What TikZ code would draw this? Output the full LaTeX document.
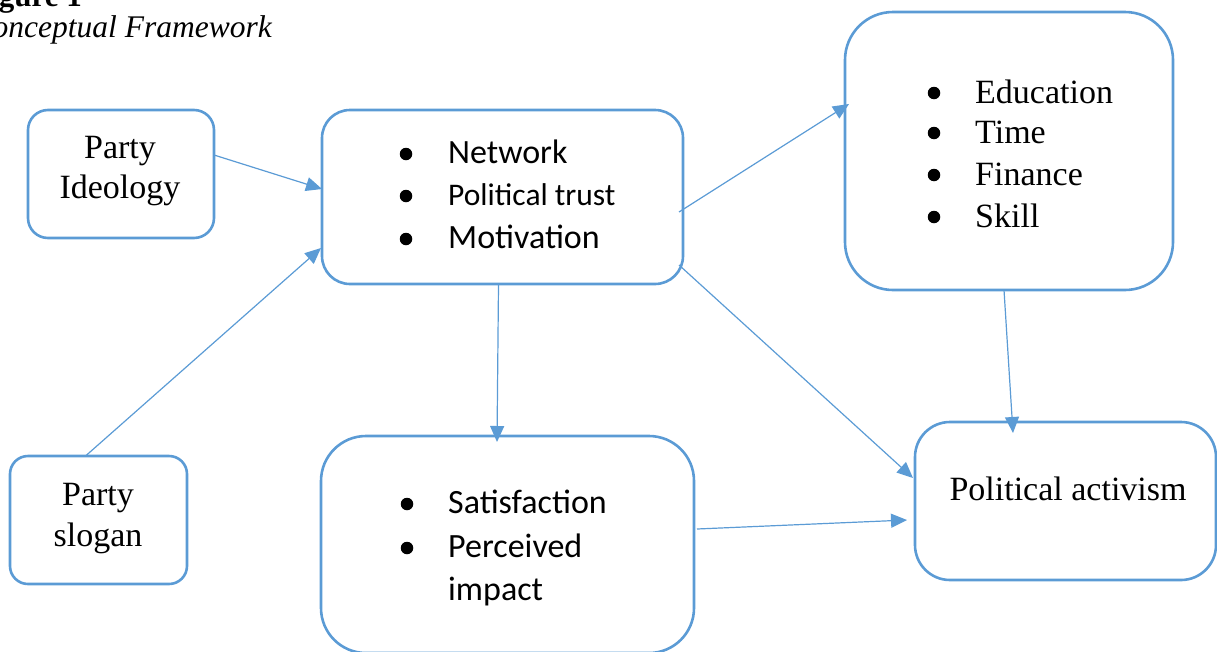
\documentclass[tikz,border=0pt]{standalone}
\usepackage{fontspec}
\setmainfont{Liberation Serif}
\newfontfamily\calibri{Carlito}
\usetikzlibrary{arrows.meta,calc}
\definecolor{frameblue}{RGB}{91,155,213}
\begin{document}
\begin{tikzpicture}[x=1pt,y=-1pt,
  box/.style={draw=frameblue, line width=2.6pt, rectangle, inner sep=0pt, outer sep=0pt},
  arr/.style={draw=frameblue, line width=1.2pt, -{Triangle[length=16pt,width=14pt]}},
  serif/.style={font=\fontsize{34}{39}\selectfont, inner sep=0pt},
  sans/.style={font=\fontsize{34}{39}\selectfont\calibri, inner sep=0pt},
  sanssmall/.style={font=\fontsize{31.5}{36}\selectfont\calibri, inner sep=0pt},
  bul/.style={circle, fill=black, inner sep=0pt, minimum size=12.5pt},
  txt/.style={anchor=base west}]
\useasboundingbox (0,0) rectangle (1217,651);
\begin{scope}
\clip (0,0) rectangle (1217,651);

% heading
\node[anchor=base east, inner sep=0pt, font=\fontsize{31}{36}\selectfont\bfseries] (fig) at (82,6) {gure 1};
\node[anchor=base east, inner sep=0pt, font=\fontsize{31.5}{36}\selectfont\itshape] (cap) at (272,37) {onceptual Framework};

% boxes
\node[box, rounded corners=20pt, minimum width=186pt, minimum height=128pt] (pi) at (121,174) {};
\node[box, rounded corners=28pt, minimum width=361pt, minimum height=174pt] (mid) at (502.5,197) {};
\node[box, rounded corners=48pt, minimum width=328pt, minimum height=278pt] (res) at (1009,151) {};
\node[box, rounded corners=18pt, minimum width=177pt, minimum height=128pt] (ps) at (98.5,520) {};
\node[box, rounded corners=45pt, minimum width=373pt, minimum height=217pt] (perc) at (507.5,544.5) {};
\node[box, rounded corners=35pt, minimum width=301pt, minimum height=158pt] (pa) at (1065.5,501) {};

% Party Ideology
\node[serif, anchor=base] (pi1) at (120,158) {Party};
\node[serif, anchor=base] (pi2) at (120,198) {Ideology};

% Party slogan
\node[serif, anchor=base] (ps1) at (98,505) {Party};
\node[serif, anchor=base] (ps2) at (98,546) {slogan};

% Political activism
\node[serif, anchor=base] (pa1) at (1068,500) {Political activism};

% network / trust / motivation
\node[bul] (b1) at (406,154) {};
\node[bul] (b2) at (406,196) {};
\node[bul] (b3) at (406,239) {};
\node[sans, txt] (m1) at (448,163) {Network};
\node[sanssmall, txt] (m2) at (448,205) {Political trust};
\node[sans, txt] (m3) at (448,248) {Motivation};

% resources
\node[bul] (r1b) at (934,93) {};
\node[bul] (r2b) at (934,133) {};
\node[bul] (r3b) at (934,175) {};
\node[bul] (r4b) at (934,217) {};
\node[serif, txt] (r1) at (975,103) {Education};
\node[serif, txt] (r2) at (975,143) {Time};
\node[serif, txt] (r3) at (975,185) {Finance};
\node[serif, txt] (r4) at (975,227) {Skill};

% satisfaction / impact
\node[bul] (s1b) at (407,504) {};
\node[bul] (s2b) at (407,548) {};
\node[sans, txt] (s1) at (448,513) {Satisfaction};
\node[sans, txt] (s2) at (448,557) {Perceived};
\node[sans, txt] (s3) at (448,600) {impact};

% connectors
\draw[arr] (pi.east |- 0,155) -- (mid.west |- 0,189);
\draw[arr] ($(ps.north)+(-13,0)$) -- ($(mid.west |- 0,248)+(-1,0)$);
\draw[arr] ($(mid.east |- 0,212)+(-4,0)$) -- ($(res.west |- 0,104)+(4,0)$);
\draw[arr] ($(mid.south)+(-4,0)$) -- ($(perc.north)+(-10.5,6)$);
\draw[arr] ($(mid.east |- 0,265)+(-4,0)$) -- ($(pa.west |- 0,478)+(-2,0)$);
\draw[arr] ($(perc.east |- 0,529)+(3,0)$) -- ($(pa.west |- 0,520)+(-8,0)$);
\draw[arr] ($(res.south)+(-5,0)$) -- ($(pa.north)+(-52.5,11)$);
\end{scope}
\end{tikzpicture}
\end{document}
